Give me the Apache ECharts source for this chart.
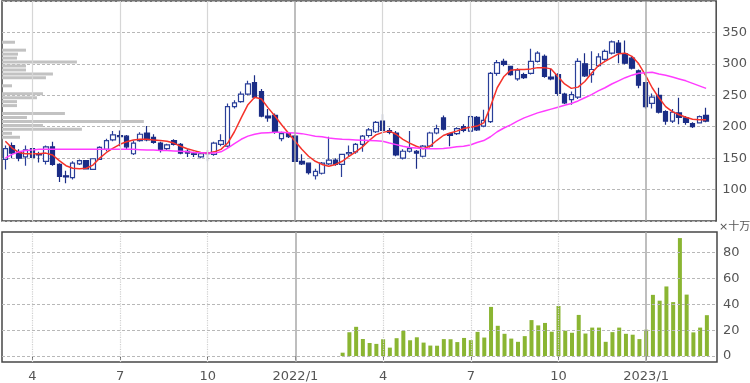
<!DOCTYPE html>
<html><head><meta charset="utf-8">
<script src="https://cdn.jsdelivr.net/npm/echarts@6/dist/echarts.min.js"></script>
<style>html,body{margin:0;padding:0;background:#fff}#c{width:750px;height:383px}</style>
</head><body><div id="c"></div>
<script>
// ---- data (weekly) ----
const categories = [
 '2021/03/08','2021/03/15','2021/03/22','2021/03/29','2021/04/05','2021/04/12','2021/04/19','2021/04/26',
 '2021/05/03','2021/05/10','2021/05/17','2021/05/24','2021/05/31','2021/06/07','2021/06/14','2021/06/21','2021/06/28',
 '2021/07/05','2021/07/12','2021/07/19','2021/07/26','2021/08/02','2021/08/09','2021/08/16','2021/08/23','2021/08/30',
 '2021/09/06','2021/09/13','2021/09/20','2021/09/27','2021/10/04','2021/10/11','2021/10/18','2021/10/25',
 '2021/11/01','2021/11/08','2021/11/15','2021/11/22','2021/11/29','2021/12/06','2021/12/13','2021/12/20','2021/12/27',
 '2022/01/03','2022/01/10','2022/01/17','2022/01/24','2022/01/31','2022/02/07','2022/02/14','2022/02/21','2022/02/28',
 '2022/03/07','2022/03/14','2022/03/21','2022/03/28','2022/04/04','2022/04/11','2022/04/18','2022/04/25',
 '2022/05/02','2022/05/09','2022/05/16','2022/05/23','2022/05/30','2022/06/06','2022/06/13','2022/06/20','2022/06/27',
 '2022/07/04','2022/07/11','2022/07/18','2022/07/25','2022/08/01','2022/08/08','2022/08/15','2022/08/22','2022/08/29',
 '2022/09/05','2022/09/12','2022/09/19','2022/09/26','2022/10/03','2022/10/10','2022/10/17','2022/10/24','2022/10/31',
 '2022/11/07','2022/11/14','2022/11/21','2022/11/28','2022/12/05','2022/12/12','2022/12/19','2022/12/26',
 '2023/01/02','2023/01/09','2023/01/16','2023/01/23','2023/01/30','2023/02/06','2023/02/13','2023/02/20','2023/02/27','2023/03/06',
 '2023/03/13'
];
const opens  = [148,170,160,152,165,156,145,168,140,122,119,141,146,132,148,164,179,186,185,157,178,190,183,174,165,178,
 172,161,157,152,159,156,172,169,232,240,252,270,256,217,218,181,189,185,145,142,122,126,141,147,140,157,160,172,186,192,
 209,194,190,150,161,161,153,169,190,214,189,189,200,193,215,201,208,285,304,296,276,283,285,304,312,279,283,252,243,247,
 300,283,297,307,317,333,316,309,289,270,237,250,224,209,222,214,205,206,218];
const closes = [165,158,150,163,151,155,168,140,121,120,142,146,133,149,167,178,187,184,168,174,188,179,175,163,171,172,
 158,158,156,157,157,174,178,232,238,252,268,247,217,214,191,189,184,145,141,127,129,142,147,140,156,159,172,185,195,207,
 194,191,155,161,165,158,169,190,197,196,186,197,194,216,195,210,285,302,299,283,290,278,304,317,280,276,253,238,251,304,
 281,291,311,320,335,318,301,293,266,232,247,223,209,223,215,207,200,216,209];
const lows   = [132,150,145,138,148,143,140,138,112,110,116,139,132,131,147,161,177,169,163,155,176,177,173,159,163,170,
 156,152,152,150,145,154,169,167,229,238,250,245,215,208,189,177,182,144,139,124,116,124,139,138,120,153,157,160,183,190,
 193,188,153,148,159,133,151,167,188,194,169,187,191,191,193,199,206,281,296,281,273,276,283,302,278,274,249,236,235,244,
 279,270,295,305,315,301,299,291,261,229,229,221,203,206,204,203,198,205,207];
const highs  = [170,175,164,170,166,160,170,176,142,130,145,148,147,150,169,181,193,194,187,178,191,201,188,176,173,180,
 174,164,160,159,163,176,188,237,242,256,273,282,260,228,221,192,191,187,156,143,133,144,184,150,157,170,174,187,198,209,
 220,198,193,164,193,163,171,192,203,218,190,199,204,219,217,227,287,306,308,297,293,286,324,320,315,292,285,254,256,309,
 317,320,317,323,337,338,337,312,291,271,253,262,226,228,246,217,207,218,230];
const ma13 = [177,166,159,157,157,157,158,155,146,138,134,133,134,139,150,159,166,172,176,179,180,180,179,178,177,174,
 169,165,162,159,158,160,164,174,192,214,235,247,244,230,217,203,190,177,164,153,145,140,137,140,145,153,160,168,178,187,
 191,193,188,180,174,169,165,169,178,186,190,193,197,199,201,206,232,262,280,290,291,291,292,294,294,292,280,268,261,263,
 272,285,297,304,310,316,317,312,300,282,262,246,232,224,219,215,212,211,211];
const ma26 = [150,156,160,162,163,164,164,164,164,164,164,164,164,164,164,164,164,164,164,164,163.5,163,163,162,162,161.5,
 161,160,159,158.5,158,158,160,166,173,180,185,188,190,190.5,191,191,190.5,190,189,187,185,184,182,181,180,179.5,179,178.5,178,177.5,
 177,174,171.5,169,167,166,165.5,165,165,165.5,166.5,168,169,171,175,178,184,192,198,203,209,214,218,222,225,228,231,234,237,241,
 246,251,257,262,268,273,278,282,285,286,286.5,284,282,279,276,273,269,265,261];
// volume (x 100,000 shares); no data before 2022/02
const volume = [null,null,null,null,null,null,null,null,null,null,null,null,null,null,null,null,null,null,null,null,
 null,null,null,null,null,null,null,null,null,null,null,null,null,null,null,null,null,null,null,null,
 null,null,null,null,null,null,null,null,null,null,
 2.6,18.4,22.6,13.2,10.1,9.4,13,6.5,13.8,19.5,12.2,14.5,10.4,8.1,8,13.1,13,10.8,14,12.3,18.7,14.3,38,23.4,17.2,13.5,11,15.4,
 27.8,23.7,25.6,18.8,38.7,19.6,18,31.8,17.4,22,22,11,18.5,22,17.2,16.5,13.1,20.4,47.3,42.8,53.8,41.7,91.2,47.5,18.3,22,31.6];
// volume-by-price profile
const profilePrices = [334.4,328.1,321.8,315.5,309.2,302.9,296.6,290.3,284.0,277.7,271.4,265.1,258.8,252.5,246.2,239.9,233.6,227.3,221.0,214.7,208.4,202.1,195.8,189.5,183.2];
const profileVols   = [13,0,24,16,15,75,24,24,51,44,0,10,0,41,35,15,15,0,63,25,142,41,80,10,18];
// axis ticks
const tickDates  = ['2021/04/05','2021/07/05','2021/10/04','2022/01/03','2022/04/04','2022/07/04','2022/10/03','2023/01/02'];
const tickLabels = ['4','7','10','2022/1','4','7','10','2023/1'];
const yearTicks  = ['2022/01/03','2023/01/02'];
const priceMin = 50, priceMax = 400, priceStep = 50;
const volTicks = [0,20,40,60,80];
const volMin = -4.6, volMax = 95.9;
const volUnit = '×十万';

// ---- chart ----
const FONT = 'DejaVu Sans';
const candleData = opens.map((o,i)=>[o,closes[i],lows[i],highs[i]]);
const tickSet = new Set(tickDates);

function vLines(yearColor, qColor, qType){
  return tickDates.map(d=>({xAxis:d, lineStyle:{color: yearTicks.includes(d)?yearColor:qColor, width: yearTicks.includes(d)?1.5:1.2, type: yearTicks.includes(d)?'solid':qType}}));
}

const chart = echarts.init(document.getElementById('c'), null, {renderer:'canvas'});
chart.setOption({
  animation:false,
  graphic:[{type:'text', left:719, top:222, silent:true, style:{text:volUnit, fill:'#555', font:'11px "DejaVu Sans","Noto Sans CJK JP"'}}],
  grid:[
    {left:2, right:33, top:1, height:220, show:true, borderColor:'#474747', borderWidth:1.5, backgroundColor:'transparent'},
    {left:2, right:33, top:232, height:130, show:true, borderColor:'#474747', borderWidth:1.5, backgroundColor:'transparent'}
  ],
  xAxis:[
    {type:'category', gridIndex:0, data:categories, boundaryGap:true, axisLine:{show:false}, axisTick:{show:false}, axisLabel:{show:false}, splitLine:{show:false}},
    {type:'category', gridIndex:1, data:categories, boundaryGap:true, axisLine:{show:false},
      axisTick:{show:true, alignWithLabel:true, length:4, interval:(i,v)=>tickSet.has(v), lineStyle:{color:'#444'}},
      axisLabel:{show:true, interval:(i,v)=>tickSet.has(v), formatter:(v)=>tickLabels[tickDates.indexOf(v)], color:'#555', fontSize:13, fontFamily:FONT, margin:8},
      splitLine:{show:false}},
    {type:'value', gridIndex:0, min:0, max:715, show:false}
  ],
  yAxis:[
    {type:'value', gridIndex:0, position:'right', min:priceMin, max:priceMax, interval:priceStep,
      axisLine:{show:false}, axisTick:{show:false},
      axisLabel:{color:'#555', fontSize:13, fontFamily:FONT, margin:6, showMinLabel:false, showMaxLabel:false},
      splitLine:{show:true, lineStyle:{color:'#b8b8b8', type:[3,2], width:1}}},
    {type:'value', gridIndex:1, position:'right', min:volMin, max:volMax,
      axisLine:{show:false}, axisTick:{show:false}, splitLine:{show:false},
      axisLabel:{customValues:volTicks, color:'#555', fontSize:13, fontFamily:FONT, margin:6}}
  ],
  series:[
    {type:'line', xAxisIndex:0, yAxisIndex:0, data:[], z:1, silent:true,
      markLine:{silent:true, symbol:'none', label:{show:false}, animation:false, data: vLines('#a9a9a9','#d6d6d6','solid')}},
    {type:'line', xAxisIndex:1, yAxisIndex:1, data:[], z:1, silent:true,
      markLine:{silent:true, symbol:'none', label:{show:false}, animation:false,
        data: vLines('#a9a9a9','#cfcfcf','dotted').concat(volTicks.map(v=>({yAxis:v, lineStyle:{color:'#b8b8b8', type:[3,2], width:1}})))}},
    {type:'custom', xAxisIndex:2, yAxisIndex:0, z:2, silent:true,
      data: profilePrices.map((p,k)=>[profileVols[k], p]),
      encode:{x:0, y:1},
      renderItem:(params, api)=>{
        const s = api.coord([0, api.value(1)]);
        const e = api.coord([api.value(0), api.value(1)]);
        return {type:'rect', shape:{x:s[0], y:s[1]-1.5, width:Math.max(0,e[0]-s[0]), height:3}, style:{fill:'#c2c2c2'}};
      }},
    {type:'candlestick', name:'price', xAxisIndex:0, yAxisIndex:0, data:candleData, barWidth:5, z:3,
      itemStyle:{color:'#ffffff', color0:'#1b2d86', borderColor:'#2a3f99', borderColor0:'#1b2d86', borderWidth:1.2}},
    {type:'line', name:'MA13', xAxisIndex:0, yAxisIndex:0, data:ma13, showSymbol:false, z:4,
      lineStyle:{color:'#f5322a', width:1.5}},
    {type:'line', name:'MA26', xAxisIndex:0, yAxisIndex:0, data:ma26, showSymbol:false, z:4,
      lineStyle:{color:'#ff3cff', width:1.5}},
    {type:'bar', name:'volume', xAxisIndex:1, yAxisIndex:1, data:volume, barWidth:4, z:3,
      itemStyle:{color:'#8ab532'}}
  ]
});
</script></body></html>
